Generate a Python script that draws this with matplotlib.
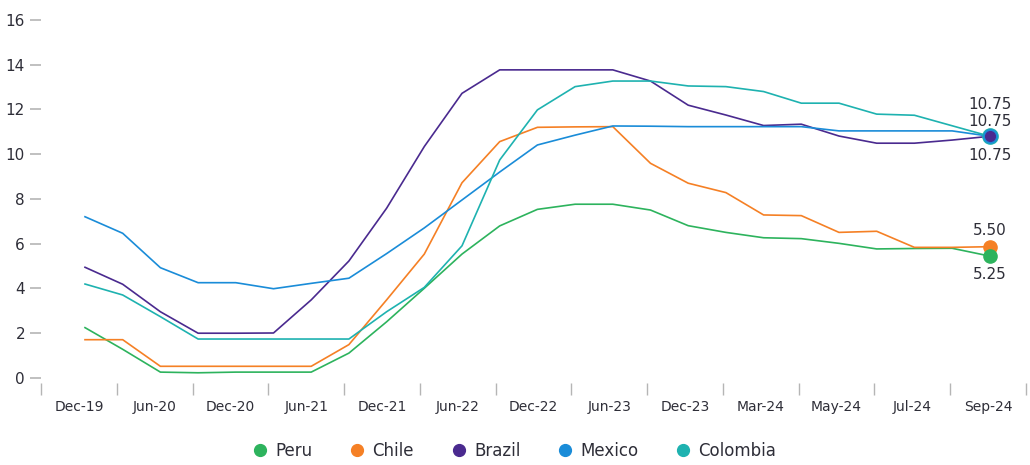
import matplotlib
matplotlib.use("Agg")
import matplotlib.pyplot as plt
import numpy as np

plt.rcParams["font.family"] = ["DejaVu Sans"]

# category labels shown on the x axis (every second period)
period_labels = ["Dec-19", "Jun-20", "Dec-20", "Jun-21", "Dec-21", "Jun-22", "Dec-22",
                 "Jun-23", "Dec-23", "Mar-24", "May-24", "Jul-24", "Sep-24"]

peru = [2.24, 1.27, 0.25, 0.22, 0.25, 0.25, 0.25, 1.10, 2.50, 4.00, 5.53, 6.79, 7.53,
        7.76, 7.76, 7.50, 6.80, 6.50, 6.26, 6.22, 6.01, 5.76, 5.78, 5.79, 5.44]
chile = [1.70, 1.70, 0.51, 0.51, 0.51, 0.51, 0.51, 1.48, 3.48, 5.53, 8.72, 10.56, 11.20,
         11.22, 11.23, 9.59, 8.70, 8.28, 7.28, 7.25, 6.50, 6.55, 5.83, 5.83, 5.86]
brazil = [4.94, 4.18, 2.95, 1.99, 1.99, 2.00, 3.48, 5.22, 7.58, 10.34, 12.72, 13.77, 13.77,
          13.77, 13.77, 13.27, 12.19, 11.75, 11.28, 11.34, 10.81, 10.49, 10.49, 10.63, 10.80]
mexico = [7.20, 6.46, 4.92, 4.25, 4.25, 3.98, 4.22, 4.45, 5.55, 6.70, 7.95, 9.20, 10.41,
          10.85, 11.26, 11.25, 11.23, 11.23, 11.23, 11.23, 11.04, 11.04, 11.04, 11.04, 10.80]
colombia = [4.19, 3.70, 2.73, 1.73, 1.73, 1.73, 1.73, 1.73, 2.95, 4.04, 5.90, 9.74, 11.98,
            13.02, 13.27, 13.27, 13.05, 13.02, 12.80, 12.28, 12.28, 11.79, 11.74, 11.27, 10.80]

names = ["Peru", "Chile", "Brazil", "Mexico", "Colombia"]
series = [peru, chile, brazil, mexico, colombia]
colors = ["#2db35d", "#f58025", "#4a2a8f", "#1a8cd8", "#1eb2b0"]
end_labels = ["5.25", "5.50", "10.75", "10.75", "10.75"]
label_offsets = [-13, 11.5, -13.5, 10.5, 23]   # points, + is up
end_sizes = [9.5, 9.5, 7, 9.5, 11]

text_col = "#2e2e38"
tick_col = "#b5b5b5"

fig = plt.figure(figsize=(10.3, 4.65), dpi=100)
ax = fig.add_axes([41 / 1030, 82 / 465, 985 / 1030, 365 / 465])

x = np.arange(len(peru))
for name, vals, c in zip(names, series, colors):
    ax.plot(x, vals, color=c, lw=1.2, label=name)

# end markers, largest first so the purple dot stays on top
order = [4, 3, 2, 1, 0]
for i in order:
    ax.plot(x[-1], series[i][-1], "o", color=colors[i], ms=end_sizes[i], zorder=5 + (4 - i))
for i in range(5):
    ax.annotate(end_labels[i], (x[-1], series[i][-1]), xytext=(0, label_offsets[i]),
                textcoords="offset points", ha="center", va="center",
                fontsize=11, color=text_col)

xmin, xmax = -44 / 37.7, 941 / 37.7
ax.set_xlim(xmin, xmax)
ax.set_ylim(-0.237, 16.09)

edges = np.linspace(xmin, xmax, len(period_labels) + 1)
centers = (edges[:-1] + edges[1:]) / 2
ax.set_xticks(centers)
ax.set_xticklabels(period_labels)
ax.set_xticks(edges, minor=True)
ax.tick_params(axis="x", which="major", length=0, pad=12, labelsize=10, labelcolor=text_col)
ax.tick_params(axis="x", which="minor", length=8.5, width=1, color=tick_col, direction="out")

ax.set_yticks(np.arange(0, 17, 2))
ax.tick_params(axis="y", length=8, width=1.2, color=tick_col, pad=3.5,
               labelsize=11, labelcolor=text_col)

for s in ax.spines.values():
    s.set_visible(False)

handles = [plt.Line2D([], [], ls="none", marker="o", ms=8.5, color=c) for c in colors]
fig.legend(handles, names, loc="center", bbox_to_anchor=(0.5, 1 - 451 / 465), ncol=5,
           frameon=False, fontsize=12, labelcolor=text_col, handlelength=0.8,
           handletextpad=0.5, columnspacing=2.3)

fig.savefig("out.png", dpi=100)
